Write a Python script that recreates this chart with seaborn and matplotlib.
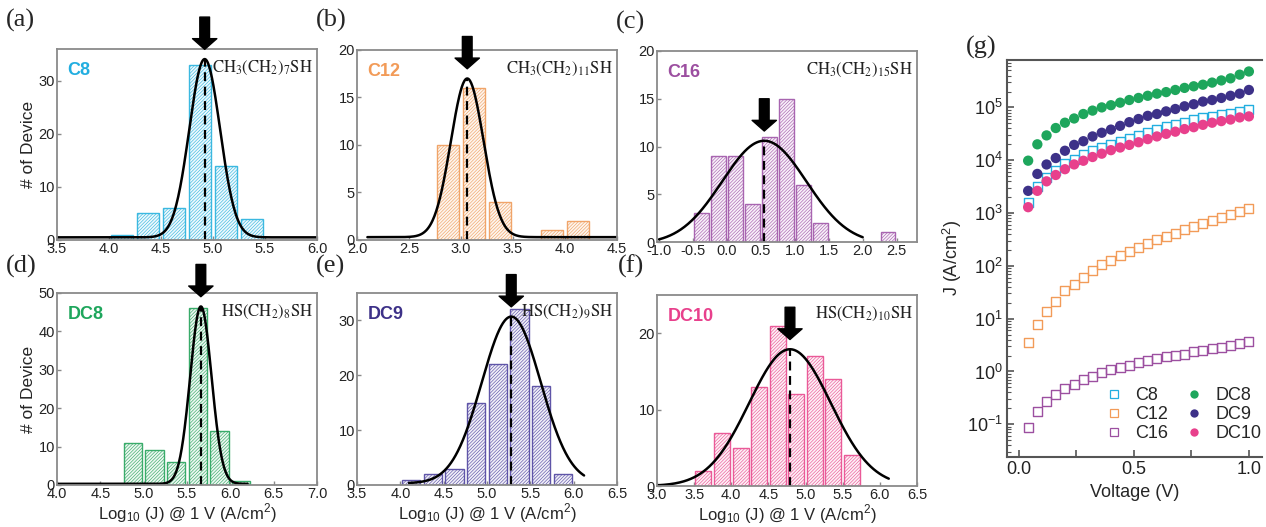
import numpy as np
import pandas as pd
import matplotlib
matplotlib.use('Agg')
import matplotlib.pyplot as plt
from matplotlib.lines import Line2D
import seaborn as sns

sns.set_style('ticks')
plt.rcParams['font.family'] = ['Liberation Sans', 'DejaVu Sans']
plt.rcParams['mathtext.fontset'] = 'stix'
plt.rcParams['hatch.linewidth'] = 0.45

# ---------------- data ----------------
bin_width = 0.25

c8_bin_start = 4.0
c8_counts = [1, 5, 6, 33, 14, 4]
c12_bin_start = 2.75
c12_counts = [10, 16, 4, 0, 1, 2]
c16_bin_start = -0.5
c16_counts = [3, 9, 9, 4, 11, 15, 6, 2, 0, 0, 0, 1]
dc8_bin_start = 4.75
dc8_counts = [11, 9, 6, 46, 14, 1]
dc9_bin_start = 4.0
dc9_counts = [1, 2, 3, 15, 22, 32, 18, 2]
dc10_bin_start = 3.5
dc10_counts = [2, 7, 5, 13, 21, 12, 17, 14, 4]

# Gaussian fit parameters: centre, amplitude, sigma, baseline, curve x-range
c8_fit = (4.92, 33.6, 0.148, 0.5, (3.5, 6.0))
c12_fit = (3.06, 16.7, 0.157, 0.3, (2.1, 4.5))
c16_fit = (0.55, 10.8, 0.62, -0.2, (-1.0, 2.0))
dc8_fit = (5.66, 46.2, 0.123, 0.3, (4.0, 6.2))
dc9_fit = (5.28, 30.4, 0.34, 0.3, (4.1, 6.12))
dc10_fit = (4.79, 17.9, 0.55, 0.0, (3.0, 6.12))

names = ['C8', 'C12', 'C16', 'DC8', 'DC9', 'DC10']
formulas = [r'$\mathrm{CH_3(CH_2)_7SH}$', r'$\mathrm{CH_3(CH_2)_{11}SH}$',
            r'$\mathrm{CH_3(CH_2)_{15}SH}$', r'$\mathrm{HS(CH_2)_8SH}$',
            r'$\mathrm{HS(CH_2)_9SH}$', r'$\mathrm{HS(CH_2)_{10}SH}$']
panel_tags = ['(a)', '(b)', '(c)', '(d)', '(e)', '(f)']
colors = {'C8': '#22aee0', 'C12': '#f29b58', 'C16': '#9c4fa0',
          'DC8': '#1ea65c', 'DC9': '#3d3188', 'DC10': '#e8408c'}
bar_edge = {'C8': '#3bb8e0', 'C12': '#f0a469', 'C16': '#a865b0',
            'DC8': '#39ab6a', 'DC9': '#5f55a8', 'DC10': '#ea5a98'}
bar_face = {'C8': '#eef9fd', 'C12': '#fef5ee', 'C16': '#f8f0f9',
            'DC8': '#eef8f2', 'DC9': '#f1f0f8', 'DC10': '#fef0f6'}

xlims = [(3.5, 6.0), (2.0, 4.5), (-1.03, 2.8), (4.0, 7.0), (3.5, 6.5), (3.0, 6.5)]
ylims = [(0, 36), (0, 20), (0, 20), (0, 50), (0, 35), (0, 25)]
xticks = [[3.5, 4.0, 4.5, 5.0, 5.5, 6.0], [2.0, 2.5, 3.0, 3.5, 4.0, 4.5],
          [-1.0, -0.5, 0.0, 0.5, 1.0, 1.5, 2.0, 2.5],
          [4.0, 4.5, 5.0, 5.5, 6.0, 6.5, 7.0], [3.5, 4.0, 4.5, 5.0, 5.5, 6.0, 6.5],
          [3.0, 3.5, 4.0, 4.5, 5.0, 5.5, 6.0, 6.5]]
yticks = [[0, 10, 20, 30], [0, 5, 10, 15, 20], [0, 5, 10, 15, 20],
          [0, 10, 20, 30, 40, 50], [0, 10, 20, 30], [0, 10, 20]]

bin_starts = [c8_bin_start, c12_bin_start, c16_bin_start, dc8_bin_start, dc9_bin_start, dc10_bin_start]
counts_all = [c8_counts, c12_counts, c16_counts, dc8_counts, dc9_counts, dc10_counts]
fits = [c8_fit, c12_fit, c16_fit, dc8_fit, dc9_fit, dc10_fit]

# J-V data (panel g)
voltage = [0.04, 0.08, 0.12, 0.16, 0.20, 0.24, 0.28, 0.32, 0.36, 0.40, 0.44, 0.48, 0.52,
           0.56, 0.60, 0.64, 0.68, 0.72, 0.76, 0.80, 0.84, 0.88, 0.92, 0.96, 1.00]
j_c8 = [1550, 3160, 4680, 6460, 8710, 1.05e4, 1.29e4, 1.51e4, 1.74e4, 2.0e4, 2.29e4, 2.63e4,
        2.95e4, 3.39e4, 3.80e4, 4.27e4, 4.73e4, 5.25e4, 5.89e4, 6.31e4, 6.76e4, 7.24e4,
        7.76e4, 8.32e4, 9.12e4]
j_c12 = [3.5, 7.6, 13.8, 21.4, 33.9, 43.7, 58.9, 83.2, 105, 126, 155, 186, 224, 263, 309,
         363, 417, 479, 550, 631, 724, 813, 933, 1070, 1200]
j_c16 = [0.087, 0.178, 0.266, 0.363, 0.473, 0.575, 0.708, 0.813, 0.944, 1.07, 1.17, 1.29,
         1.45, 1.58, 1.74, 1.88, 2.04, 2.14, 2.34, 2.51, 2.69, 2.88, 3.09, 3.39, 3.63]
j_dc8 = [9800, 2.0e4, 2.95e4, 4.07e4, 5.13e4, 6.17e4, 7.5e4, 8.7e4, 1.0e5, 1.10e5, 1.23e5,
         1.38e5, 1.51e5, 1.66e5, 1.82e5, 1.95e5, 2.14e5, 2.34e5, 2.51e5, 2.69e5, 2.95e5,
         3.24e5, 3.55e5, 4.17e5, 4.79e5]
j_dc9 = [2630, 5500, 8300, 1.10e4, 1.51e4, 1.95e4, 2.29e4, 2.82e4, 3.31e4, 3.80e4, 4.47e4,
         5.25e4, 6.03e4, 6.92e4, 7.50e4, 8.41e4, 9.33e4, 1.05e5, 1.15e5, 1.29e5, 1.38e5,
         1.51e5, 1.66e5, 1.82e5, 2.14e5]
j_dc10 = [1290, 2630, 3980, 5250, 6760, 8320, 9770, 1.15e4, 1.33e4, 1.55e4, 1.74e4, 1.95e4,
          2.19e4, 2.51e4, 2.82e4, 3.16e4, 3.47e4, 3.89e4, 4.22e4, 4.68e4, 5.13e4, 5.50e4,
          5.89e4, 6.46e4, 6.76e4]
jv_series = {'C8': j_c8, 'C12': j_c12, 'C16': j_c16, 'DC8': j_dc8, 'DC9': j_dc9, 'DC10': j_dc10}

# ---------------- figure ----------------
W, H = 1266, 527
fig = plt.figure(figsize=(W / 100, H / 100), dpi=100)
fig.patch.set_facecolor('white')


def ax_px(l, t, r, b):
    return fig.add_axes([l / W, 1 - b / H, (r - l) / W, (b - t) / H])


boxes = [(57, 49, 317, 240), (357, 50, 617, 240), (657, 51, 917, 242),
         (57, 293, 317, 485), (357, 293, 617, 485), (657, 295, 917, 486)]
tag_pos = [(6, 20), (316, 20), (616, 22), (6, 266), (316, 266), (618, 266)]

spine_col = '#8a8a8a'

for i, name in enumerate(names):
    ax = ax_px(*boxes[i])
    ax.set_facecolor('white')
    col = colors[name]
    counts = np.array(counts_all[i], dtype=float)
    n = len(counts)
    start = bin_starts[i]
    centers = start + bin_width * (np.arange(n) + 0.5)
    df = pd.DataFrame({'center': centers, 'count': counts})
    sns.histplot(data=df, x='center', weights='count', binwidth=bin_width,
                 binrange=(start, start + bin_width * n), shrink=0.86, ax=ax,
                 color=col, alpha=1.0)
    for p in ax.patches:
        if p.get_height() <= 0:
            p.set_visible(False)
            continue
        p.set_facecolor(bar_face[name])
        p.set_edgecolor(bar_edge[name])
        p.set_hatch('/' * 10)
        p.set_linewidth(1.0)

    c, amp, sig, base, (x0, x1) = fits[i]
    xf = np.linspace(x0, x1, 400)
    yf = np.clip(base + amp * np.exp(-(xf - c) ** 2 / (2 * sig ** 2)), 0, None)
    sns.lineplot(x=xf, y=yf, ax=ax, color='black', lw=1.8)
    peak = base + amp
    ax.plot([c, c], [0, peak], color='black', lw=1.6, ls=(0, (4, 2.5)))
    ax.annotate('', xy=(c, peak), xycoords='data', xytext=(0, 42),
                textcoords='offset pixels', annotation_clip=False,
                arrowprops=dict(arrowstyle='simple,head_length=0.55,head_width=1.25,tail_width=0.5',
                                color='black', shrinkA=0, shrinkB=7, mutation_scale=14))

    ax.set_xlim(*xlims[i])
    ax.set_ylim(*ylims[i])
    ax.set_xticks(xticks[i])
    ax.set_xticklabels([f'{v:.1f}' for v in xticks[i]])
    ax.set_yticks(yticks[i])
    ax.tick_params(axis='both', labelsize=10.5, direction='in', length=3, width=1,
                   color=spine_col, pad=1.5, labelcolor='#222222')
    for s in ax.spines.values():
        s.set_color(spine_col)
        s.set_linewidth(1.3)
        s.set_visible(True)
    ax.set_ylabel('# of Device' if i in (0, 3) else '', fontsize=12.5, labelpad=2)
    if i >= 3:
        ax.set_xlabel(r'Log$_{\mathdefault{10}}$ (J) @ 1 V (A/cm$^{\mathdefault{2}}$)',
                      fontsize=12, labelpad=1)
    else:
        ax.set_xlabel('')
    ax.text(0.04, 0.93, name, transform=ax.transAxes, color=col, fontsize=13,
            fontweight='bold', va='top', ha='left')
    ax.text(0.985, 0.95, formulas[i], transform=ax.transAxes, color='#222222',
            fontsize=12, va='top', ha='right')
    fig.text(tag_pos[i][0] / W, 1 - tag_pos[i][1] / H, panel_tags[i],
             family='Liberation Serif', fontsize=19, va='center', ha='left')

# ---------------- panel g ----------------
axg = ax_px(1007, 60, 1262, 457)
axg.set_facecolor('white')
open_series = ['C8', 'C12', 'C16']
for name in names:
    sns.scatterplot(x=voltage, y=jv_series[name], ax=axg, color=colors[name],
                    marker='s' if name in open_series else 'o',
                    s=42 if name in open_series else 55, linewidth=0 if name not in open_series else 1.0)
for coll, name in zip(axg.collections, names):
    if name in open_series:
        coll.set_facecolor('none')
        coll.set_edgecolor(colors[name])
        coll.set_linewidth(1.0)
    else:
        coll.set_edgecolor('none')
axg.set_yscale('log')
axg.set_xlim(-0.052, 1.057)
axg.set_ylim(0.024, 7.9e5)
axg.set_xticks([0.0, 0.5, 1.0])
axg.set_xticks([0.25, 0.75], minor=True)
axg.set_xticklabels(['0.0', '0.5', '1.0'])
axg.set_yticks([1e-1, 1e0, 1e1, 1e2, 1e3, 1e4, 1e5])
axg.yaxis.set_minor_locator(matplotlib.ticker.LogLocator(base=10, subs=np.arange(2, 10), numticks=20))
axg.yaxis.set_minor_formatter(matplotlib.ticker.NullFormatter())
axg.tick_params(axis='both', which='major', labelsize=13, direction='in', length=5,
                width=1.2, color='#555555', pad=3, labelcolor='#222222')
axg.tick_params(axis='both', which='minor', direction='in', length=3, width=0.8, color='#555555')
axg.tick_params(axis='x', which='minor', length=5, width=1.2)
for s in ['left', 'bottom', 'top']:
    axg.spines[s].set_color('#555555')
    axg.spines[s].set_linewidth(1.5)
axg.spines['right'].set_visible(False)
axg.set_xlabel('Voltage (V)', fontsize=13, labelpad=4)
axg.set_ylabel(r'J (A/cm$^{\mathdefault{2}}$)', fontsize=13, labelpad=2)
fig.text(966 / W, 1 - 47 / H, '(g)', family='Liberation Serif', fontsize=19,
         va='center', ha='left')

handles = []
for name in names:
    if name in open_series:
        handles.append(Line2D([], [], ls='none', marker='s', markersize=5.5,
                              markerfacecolor='none', markeredgecolor=colors[name],
                              markeredgewidth=0.9, label=name))
    else:
        handles.append(Line2D([], [], ls='none', marker='o', markersize=6,
                              markerfacecolor=colors[name], markeredgecolor='none',
                              label=name))
axg.legend(handles=handles, ncol=2, frameon=False, fontsize=13, loc='lower right',
           bbox_to_anchor=(1272 / W, 1 - 453 / H), bbox_transform=fig.transFigure,
           handletextpad=0.6, columnspacing=0.8, labelspacing=0.12, handlelength=1.2,
           borderpad=0.1)

fig.savefig('out.png', dpi=100, facecolor='white')
